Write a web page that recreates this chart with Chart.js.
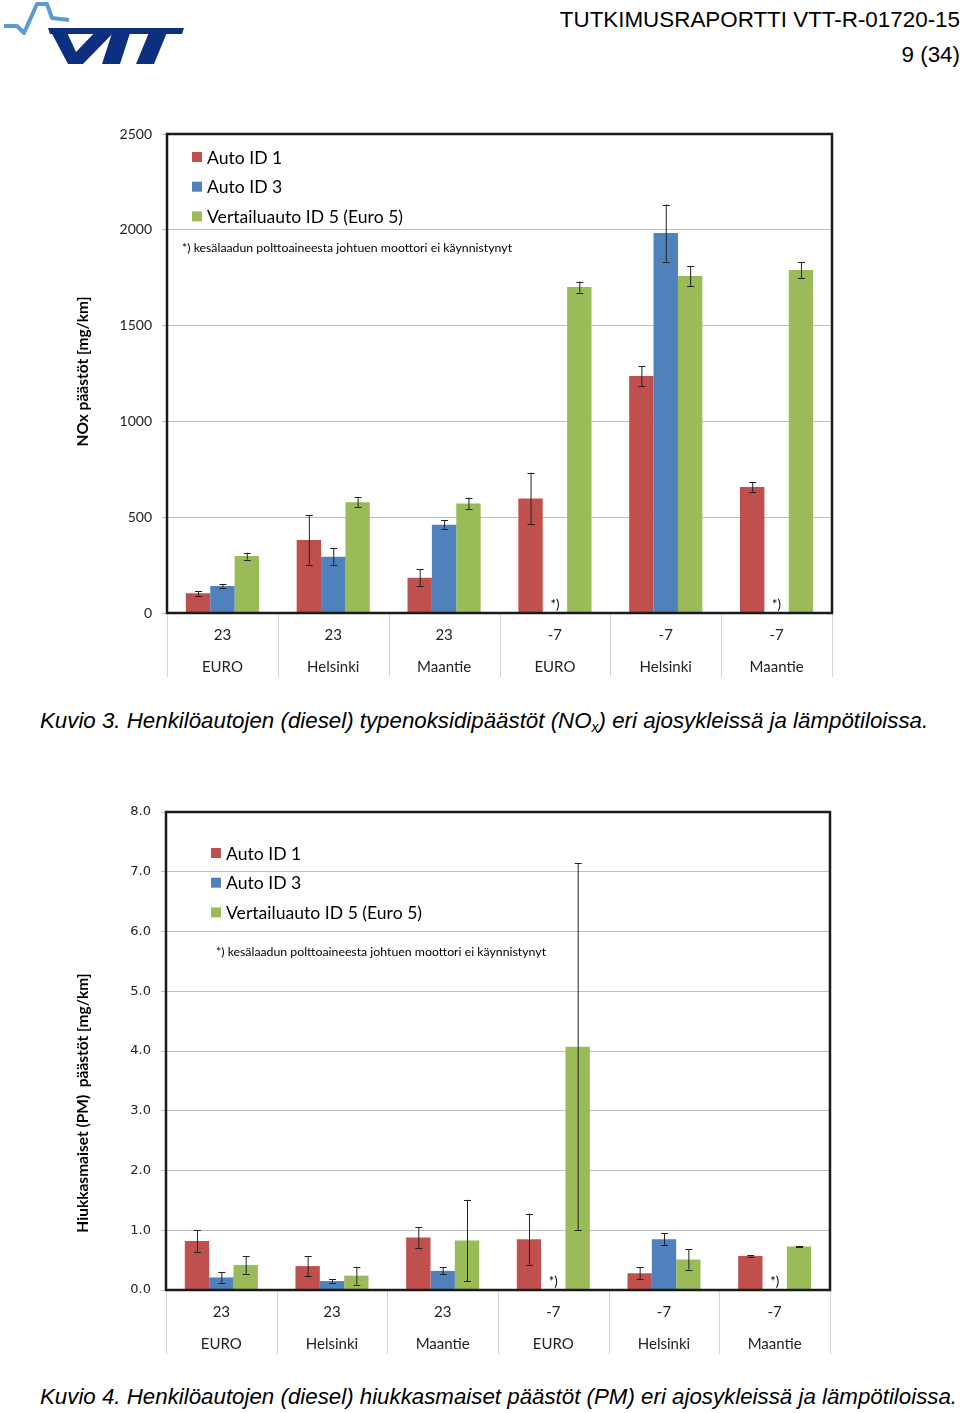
<!DOCTYPE html>
<html>
<head>
<meta charset="utf-8">
<script src="https://cdn.jsdelivr.net/npm/chart.js@4.4.1/dist/chart.umd.min.js"></script>
<style>
  body { margin: 0; background: #fff; }
  #page { position: relative; width: 960px; height: 1413px; overflow: hidden; font-family: "Liberation Sans", Arial, sans-serif; color: #000; }
  .hdr { position: absolute; right: 0; font-size: 22.4px; text-align: right; white-space: nowrap; }
  .cap { position: absolute; left: 40px; font-size: 22.3px; font-style: italic; white-space: nowrap; }
  .cap sub { font-size: 14px; vertical-align: -4px; }
  canvas { position: absolute; left: 0; }
</style>
</head>
<body>
<div id="page">
  <svg width="190" height="70" style="position:absolute;left:0;top:0">
    <polyline points="4,26 17,26 24,33 37,4 47,4 52,18 69,20" fill="none" stroke="#5b9bd5" stroke-width="4" stroke-linejoin="round"/>
    <polygon points="48,28 184,28 182,34 50,34" fill="#0d2f7f"/>
    <polygon points="49,28 65,28 76,52 99,28 118,28 83,64 68,64" fill="#0d2f7f"/>
    <polygon points="113,30 131,30 120,64 102,64" fill="#0d2f7f"/>
    <polygon points="150,30 168,30 154,64 136,64" fill="#0d2f7f"/>
  </svg>
  <div class="hdr" style="top:7px">TUTKIMUSRAPORTTI VTT-R-01720-15</div>
  <div class="hdr" style="top:42px">9 (34)</div>

  <canvas id="nox" width="860" height="570" style="top:120px"></canvas>
  <div class="cap" style="top:708px">Kuvio 3. Henkilöautojen (diesel) typenoksidipäästöt (NO<sub>x</sub>) eri ajosykleissä ja lämpötiloissa.</div>

  <canvas id="pm" width="860" height="569" style="top:798px"></canvas>
  <div class="cap" style="top:1384px">Kuvio 4. Henkilöautojen (diesel) hiukkasmaiset päästöt (PM) eri ajosykleissä ja lämpötiloissa.</div>
</div>

<script>
// categories
const temps = ['23', '23', '23', '-7', '-7', '-7']
const cycles = ['EURO', 'Helsinki', 'Maantie', 'EURO', 'Helsinki', 'Maantie']
const seriesNames = ['Auto ID 1', 'Auto ID 3', 'Vertailuauto ID 5 (Euro 5)']
const colors = ['#c0504d', '#4f81bd', '#9bbb59']
const noteText = '*) kesälaadun polttoaineesta johtuen moottori ei käynnistynyt'

// NOx [mg/km], null = car did not start
const noxAuto1 = [103, 381, 184, 597, 1237, 658]
const noxAuto1Err = [13, 128, 45, 135, 52, 26]
const noxAuto3 = [141, 294, 461, null, 1983, null]
const noxAuto3Err = [8, 46, 23, null, 149, null]
const noxRef = [297, 578, 572, 1701, 1759, 1790]
const noxRefErr = [18, 27, 30, 29, 52, 42]

// PM [mg/km]
const pmAuto1 = [0.82, 0.40, 0.88, 0.85, 0.28, 0.57]
const pmAuto1Err = [0.18, 0.17, 0.17, 0.43, 0.10, 0.01]
const pmAuto3 = [0.21, 0.15, 0.32, null, 0.85, null]
const pmAuto3Err = [0.09, 0.03, 0.06, null, 0.10, null]
const pmRef = [0.42, 0.24, 0.83, 4.07, 0.51, 0.73]
const pmRefErr = [0.15, 0.15, 0.68, 3.07, 0.17, 0.01]

const calibri = 'Lato, "Open Sans", sans-serif'

// error bars, frame, legend, note, separators, axis title
const extras = {
    id: 'extras',
    afterDatasetsDraw(chart, args, o) {
        const ctx = chart.ctx
        const a = chart.chartArea
        const ys = chart.scales.y
        const xs = chart.scales.x
        ctx.save()
        // error bars + "*)" for missing bars
        chart.data.datasets.forEach((ds, d) => {
            const meta = chart.getDatasetMeta(d)
            meta.data.forEach((el, i) => {
                const v = ds.data[i]
                if (v == null) {
                    ctx.fillStyle = '#000'
                    ctx.font = '13px ' + calibri
                    ctx.textAlign = 'center'
                    ctx.textBaseline = 'alphabetic'
                    ctx.fillText('*)', el.x, a.bottom - 4)
                    return
                }
                const e = ds.errors[i]
                const y1 = ys.getPixelForValue(v + e)
                const y2 = ys.getPixelForValue(v - e)
                ctx.strokeStyle = '#222'
                ctx.lineWidth = 1
                ctx.beginPath()
                ctx.moveTo(el.x + 0.5, y1); ctx.lineTo(el.x + 0.5, y2)
                ctx.moveTo(el.x - 3, Math.round(y1) + 0.5); ctx.lineTo(el.x + 4, Math.round(y1) + 0.5)
                ctx.moveTo(el.x - 3, Math.round(y2) + 0.5); ctx.lineTo(el.x + 4, Math.round(y2) + 0.5)
                ctx.stroke()
            })
        })
        // category separators below the axis
        ctx.strokeStyle = '#d4d4d4'
        ctx.lineWidth = 1
        const n = chart.data.labels.length
        for (let i = 0; i <= n; i++) {
            const x = Math.round(xs.left + i * xs.width / n) + 0.5
            ctx.beginPath()
            ctx.moveTo(x, a.bottom); ctx.lineTo(x, a.bottom + 64)
            ctx.stroke()
        }
        // frame
        ctx.strokeStyle = '#1a1a1a'
        ctx.lineWidth = 2.5
        ctx.strokeRect(a.left, a.top, a.right - a.left, a.bottom - a.top)
        // legend
        ctx.textAlign = 'left'
        ctx.textBaseline = 'middle'
        ctx.font = '17.6px ' + calibri
        chart.data.datasets.forEach((ds, d) => {
            const cy = a.top + o.legY + d * 29.7
            ctx.fillStyle = ds.backgroundColor
            ctx.fillRect(a.left + o.legX, cy - 5, 10, 10)
            ctx.fillStyle = '#000'
            ctx.fillText(ds.label, a.left + o.legX + 15, cy + 1)
        })
        ctx.font = '12.3px ' + calibri
        ctx.fillText(noteText, a.left + o.noteX, a.top + o.noteY)
        // y axis title
        ctx.translate(a.left + o.titleX, (a.top + a.bottom) / 2 + o.titleDy)
        ctx.rotate(-Math.PI / 2)
        ctx.textAlign = 'center'
        ctx.font = 'bold 15.5px ' + calibri
        ctx.fillText(o.title, 0, 0)
        ctx.restore()
    }
}

function make_chart(id, s, yopts, ex) {
    const ctx = document.getElementById(id).getContext('2d')
    return new Chart(ctx, {
        type: 'bar',
        data: {
            labels: temps.map((t, i) => [t, cycles[i]]),
            datasets: [
                { label: seriesNames[0], data: s[0], errors: s[1], backgroundColor: colors[0] },
                { label: seriesNames[1], data: s[2], errors: s[3], backgroundColor: colors[1] },
                { label: seriesNames[2], data: s[4], errors: s[5], backgroundColor: colors[2] }
            ]
        },
        options: {
            responsive: false,
            animation: false,
            layout: { padding: { top: 14, right: ex.right, left: 0, bottom: 0 } },
            datasets: { bar: { categoryPercentage: 0.66, barPercentage: 1 } },
            plugins: {
                legend: { display: false },
                tooltip: { enabled: false },
                extras: ex
            },
            scales: {
                x: {
                    grid: { display: false },
                    border: { display: false },
                    ticks: {
                        color: '#222',
                        padding: -2,
                        font: { family: calibri, size: 15, lineHeight: 32 / 15 },
                        maxRotation: 0
                    },
                    afterFit: sc => { sc.height = 77; sc.paddingLeft = 0; sc.paddingRight = 0 }
                },
                y: {
                    min: 0,
                    max: yopts.max,
                    border: { display: false },
                    grid: { color: '#bdbdbd', tickLength: 5 },
                    ticks: {
                        stepSize: yopts.step,
                        padding: 10,
                        color: '#222',
                        font: yopts.font,
                        callback: yopts.fmt
                    },
                    afterFit: sc => { sc.width = ex.left; sc.paddingTop = 0; sc.paddingBottom = 0 }
                }
            }
        },
        plugins: [extras]
    })
}

make_chart('nox', [noxAuto1, noxAuto1Err, noxAuto3, noxAuto3Err, noxRef, noxRefErr],
    { max: 2500, step: 500, font: { family: calibri, size: 14 }, fmt: v => String(v) },
    { left: 167, right: 28, legX: 25, legY: 23, noteX: 15, noteY: 114,
      titleX: -84, titleDy: -2, title: 'NOx päästöt [mg/km]' })

make_chart('pm', [pmAuto1, pmAuto1Err, pmAuto3, pmAuto3Err, pmRef, pmRefErr],
    { max: 8, step: 1, font: { family: '"DejaVu Sans", sans-serif', size: 13 }, fmt: v => v.toFixed(1) },
    { left: 166, right: 30, legX: 45, legY: 41, noteX: 50, noteY: 140,
      titleX: -83, titleDy: 52, title: 'Hiukkasmaiset (PM)  päästöt [mg/km]' })
</script>
</body>
</html>
